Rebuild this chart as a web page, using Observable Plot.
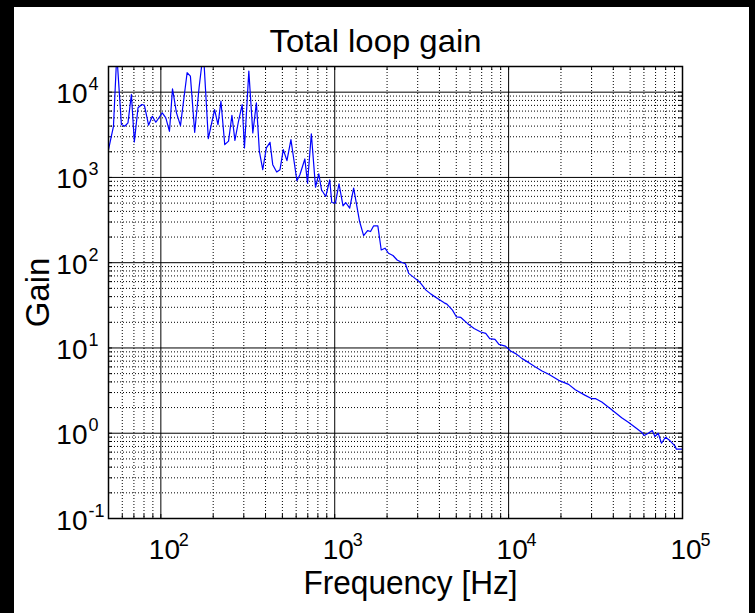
<!DOCTYPE html>
<html><head><meta charset="utf-8">
<script src="https://cdn.jsdelivr.net/npm/d3@7"></script>
<script src="https://cdn.jsdelivr.net/npm/@observablehq/plot@0.6"></script>
<style>
html,body{margin:0;padding:0;background:#000;width:755px;height:613px;overflow:hidden}
#fig{position:absolute;left:14px;top:7px;width:735px;height:606px;background:#fff}
#chart{position:absolute;left:0;top:0}
</style></head><body>
<div id="fig"></div>
<div id="chart"></div>
<script>
const freq = [50, 53.4, 55.8, 59.3, 62.0, 64.7, 67.7, 70.4, 73.9, 77.8, 80.4, 85.0, 89.3, 93.6, 101.9, 106.8, 112.1, 116.7, 123, 129.7, 141.6, 147.9, 156.5, 165.9, 175.6, 187.5, 203.7, 213.1, 221.6, 233.1, 245.1, 256.3, 266.7, 279.6, 293.6, 302.6, 320.6, 338, 354.4, 368.7, 385.5, 404.5, 424.6, 440, 463.8, 484.4, 506, 531.2, 559.9, 606, 630.5, 673.3, 697.6, 733.6, 775.4, 809.8, 839.2, 888.2, 936.3, 961.3, 1009, 1058, 1116, 1156, 1219, 1285, 1390, 1466, 1545, 1607, 1672, 1770, 1851, 1946, 2038, 2162, 2285, 2434, 2549, 2663, 2871, 3067, 3349, 3577, 3902, 4263, 4417, 4755, 5013, 5314, 5794, 6329, 6915, 7386, 7785, 8349, 8800, 9588, 10270, 10970, 11960, 13070, 14270, 15570, 17010, 19410, 22140, 24180, 27600, 30100, 31720, 34340, 39170, 44700, 48820, 53330, 58170, 60290, 63550, 66990, 69400, 72480, 75720, 79820, 84580, 90340, 92290, 100000];
const gain = [2118, 3981, 28000, 4169, 3981, 4365, 9397, 2610, 6553, 7163, 7031, 4093, 5219, 4437, 5722, 4997, 3475, 10965, 5722, 4055, 16904, 15420, 3381, 11270, 30000, 2852, 6259, 4169, 7834, 2425, 2667, 5362, 2725, 4558, 7163, 2218, 17660, 3330, 7505, 2023, 1232, 2218, 2581, 1411, 1157, 1232, 2118, 1572, 2776, 915, 1076, 1647, 859, 3250, 767, 1105, 717, 598, 939, 508, 500, 843, 464, 508, 436, 751, 304, 208, 238, 232, 270, 270, 141, 148, 129, 121.5, 107.6, 100.5, 97.3, 75, 66.4, 59.8, 47.7, 42.8, 38.1, 33.8, 32.7, 27.8, 23.1, 22.8, 19.4, 16.9, 15.4, 14.8, 12.9, 12.6, 11.0, 10.5, 9.22, 8.59, 7.50, 6.73, 5.98, 5.36, 4.91, 4.17, 3.74, 3.24, 2.78, 2.54, 2.54, 2.32, 1.885, 1.518, 1.347, 1.177, 1.027, 0.94, 1.0, 1.076, 0.915, 1.0, 0.763, 0.897, 0.821, 0.711, 0.650, 0.650];
const xDecades = [100, 1000, 10000, 100000];
const xExponents = ["2", "3", "4", "5"];
const yDecades = [0.1, 1, 10, 100, 1000, 10000];
const yExponents = ["-1", "0", "1", "2", "3", "4"];
const tickBase = "10";
const titleText = "Total loop gain";
const xLabel = "Frequency [Hz]";
const yLabel = "Gain";
const xDomain = [50, 100000];
const yDomain = [0.1, 20000];

const data = freq.map((f, i) => ({f, g: gain[i]}));
const isDecade = v => Math.abs(Math.log10(v) - Math.round(Math.log10(v))) < 1e-9;
const xAll = d3.scaleLog().domain(xDomain).ticks();
const yAll = d3.scaleLog().domain(yDomain).ticks();
const xMinor = xAll.filter(v => !isDecade(v));
const yMinor = yAll.filter(v => !isDecade(v));
const font = "'Liberation Sans', Arial, Helvetica, sans-serif";

const W = 755, H = 613, ML = 108, MR = 73, MT = 66, MB = 95;
const FW = W - ML - MR, FH = H - MT - MB;
const dot = {stroke: "#000", strokeWidth: 1, strokeDasharray: "1,2"};

const chart = Plot.plot({
  width: W, height: H,
  marginLeft: ML, marginRight: MR, marginTop: MT, marginBottom: MB,
  style: {background: "transparent", fontFamily: font, color: "#000"},
  x: {type: "log", domain: xDomain, axis: null},
  y: {type: "log", domain: yDomain, axis: null},
  marks: [
    Plot.ruleX(xMinor, dot),
    Plot.ruleY(yMinor, dot),
    Plot.ruleX(xDecades, {stroke: "#000", strokeWidth: 1}),
    Plot.ruleY(yDecades, {stroke: "#000", strokeWidth: 1}),
    Plot.ruleX(xAll, {stroke: "#000", insetTop: FH - 4}),
    Plot.ruleX(xAll, {stroke: "#000", insetBottom: FH - 4}),
    Plot.ruleY(yAll, {stroke: "#000", insetRight: FW - 4}),
    Plot.ruleY(yAll, {stroke: "#000", insetLeft: FW - 4}),
    Plot.line(data, {x: "f", y: "g", stroke: "#0000ff", strokeWidth: 1.2, clip: true}),
    Plot.frame({stroke: "#000", strokeWidth: 1.5}),
    // x tick labels
    Plot.text(xDecades, {x: d => d, frameAnchor: "bottom", text: () => tickBase, textAnchor: "start", lineAnchor: "bottom", dx: -12, dy: 40, fontSize: 28, fill: "#000"}),
    Plot.text(xDecades, {x: d => d, frameAnchor: "bottom", text: (d, i) => xExponents[i], textAnchor: "start", lineAnchor: "bottom", dx: 18, dy: 27, fontSize: 18, fill: "#000"}),
    // y tick labels
    Plot.text(yDecades, {y: d => d, frameAnchor: "left", text: () => tickBase, textAnchor: "end", lineAnchor: "bottom", dx: -21, dy: 11, fontSize: 28, fill: "#000"}),
    Plot.text(yDecades, {y: d => d, frameAnchor: "left", text: (d, i) => yExponents[i], textAnchor: "start", lineAnchor: "bottom", dx: -20, dy: -2, fontSize: 18, fill: "#000"}),
    // title and axis labels
    Plot.text([titleText], {frameAnchor: "top", text: d => d, textAnchor: "middle", lineAnchor: "bottom", dx: -20, dy: -15, fontSize: 32, fill: "#000"}),
    Plot.text([xLabel], {frameAnchor: "bottom", text: d => d, textAnchor: "middle", lineAnchor: "bottom", dx: 15, dy: 75, fontSize: 34, fill: "#000"}),
    Plot.text([yLabel], {frameAnchor: "left", text: d => d, textAnchor: "middle", lineAnchor: "bottom", rotate: -90, dx: -60, dy: 0, fontSize: 33, fill: "#000"})
  ]
});
const fitWidth = {[titleText]: 212, [xLabel]: 214};
d3.select(chart).selectAll("text").each(function () {
  const w = fitWidth[this.textContent];
  if (w) {
    this.setAttribute("textLength", w);
    this.setAttribute("lengthAdjust", "spacingAndGlyphs");
  }
});
document.getElementById("chart").appendChild(chart);
</script>
</body></html>
